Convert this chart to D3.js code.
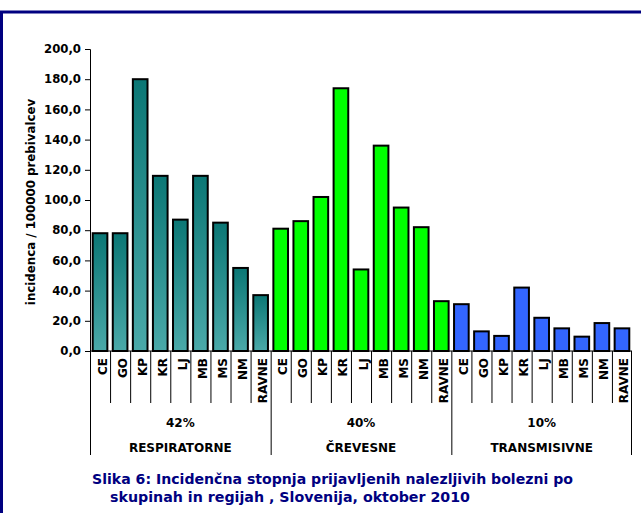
<!DOCTYPE html>
<html>
<head>
<meta charset="utf-8">
<script src="https://cdn.jsdelivr.net/npm/d3@7"></script>
<style>
  body { margin: 0; background: #fff; }
  svg { display: block; font-family: "DejaVu Sans", Verdana, sans-serif; }
</style>
</head>
<body>
<svg width="641" height="513"></svg>
<script>
var regions = ['CE', 'GO', 'KP', 'KR', 'LJ', 'MB', 'MS', 'NM', 'RAVNE']
var groups = ['RESPIRATORNE', 'ČREVESNE', 'TRANSMISIVNE']
var shares = ['42%', '40%', '10%']
var respiratorne = [78, 78, 180, 116, 87, 116, 85, 55, 37]
var crevesne = [81, 86, 102, 174, 54, 136, 95, 82, 33]
var transmisivne = [31, 13, 10, 42, 22, 15, 9.5, 18.5, 15]
var yTicks = [0, 20, 40, 60, 80, 100, 120, 140, 160, 180, 200]

var series = [respiratorne, crevesne, transmisivne]
var fills = ['url(#tealGrad)', '#00ff00', '#3366ff']
var font = '"DejaVu Sans", Verdana, sans-serif'

var rows = []
series.forEach(function(vals, g){
    vals.forEach(function(v, i){
        rows.push({ key: g + '-' + regions[i], region: regions[i], group: g, value: v })
    })
})

var svg = d3.select('svg')

var defs = svg.append('defs')
var grad = defs.append('linearGradient')
    .attr('id', 'tealGrad')
    .attr('x1', 0).attr('y1', 0).attr('x2', 0).attr('y2', 1)
grad.append('stop').attr('offset', '0%').attr('stop-color', '#0b7775')
grad.append('stop').attr('offset', '100%').attr('stop-color', '#4aa9a9')

// frame
svg.append('rect')
    .attr('x', 1.5).attr('y', 12)
    .attr('width', 700).attr('height', 700)
    .attr('fill', 'none')
    .attr('stroke', '#000080')
    .attr('stroke-width', 3)

var plotLeft = 90, plotRight = 632, plotTop = 49, plotBottom = 351

var x = d3.scaleBand().domain(rows.map(function(d){ return d.key }))
    .range([plotLeft, plotRight]).paddingInner(0.27).paddingOuter(0.135)
var xStep = d3.scaleBand().domain(rows.map(function(d){ return d.key }))
    .range([plotLeft, plotRight])
var y = d3.scaleLinear().domain([0, 200]).range([plotBottom, plotTop])

// bars
svg.append('g')
    .selectAll('rect')
    .data(rows)
    .enter()
    .append('rect')
    .attr('x', function(d){ return x(d.key) })
    .attr('y', function(d){ return y(d.value) })
    .attr('width', x.bandwidth())
    .attr('height', function(d){ return y(0) - y(d.value) })
    .attr('fill', function(d){ return fills[d.group] })
    .attr('stroke', '#000')
    .attr('stroke-width', 2)

// y axis
var yAxis = d3.axisLeft(y).tickValues(yTicks).tickSize(5).tickPadding(4)
    .tickFormat(function(d){ return d3.format('.1f')(d).replace('.', ',') })
var ya = svg.append('g')
    .attr('transform', 'translate(' + plotLeft + ',0)')
    .call(yAxis)
    .attr('font-family', font)
ya.select('.domain').attr('stroke', '#000')
ya.selectAll('text')
    .style('font-size', '11.7px')
    .style('font-weight', 'bold')
    .attr('fill', '#000')

svg.append('text')
    .attr('transform', 'translate(35,' + ((plotTop + plotBottom) / 2 + 2) + ') rotate(-90)')
    .attr('text-anchor', 'middle')
    .style('font-size', '11.8px')
    .style('font-weight', 'bold')
    .text('incidenca / 100000 prebivalcev')

// x axis line
svg.append('line')
    .attr('x1', plotLeft).attr('x2', plotRight)
    .attr('y1', plotBottom).attr('y2', plotBottom)
    .attr('stroke', '#000')

// category separators
var sep = svg.append('g').attr('stroke', '#000').attr('stroke-width', 1)
rows.forEach(function(d, i){
    var xs = xStep(d.key)
    var isGroupEdge = (i % regions.length === 0)
    sep.append('line')
        .attr('x1', xs + 0.5).attr('x2', xs + 0.5)
        .attr('y1', plotBottom).attr('y2', isGroupEdge ? 455 : 403)
})
sep.append('line')
    .attr('x1', plotRight - 0.5).attr('x2', plotRight - 0.5)
    .attr('y1', plotBottom).attr('y2', 455)

// category labels
svg.append('g')
    .selectAll('text')
    .data(rows)
    .enter()
    .append('text')
    .attr('transform', function(d){
        return 'translate(' + (xStep(d.key) + xStep.bandwidth() / 2 + 6.5) + ',358) rotate(-90)'
    })
    .attr('text-anchor', 'end')
    .style('font-size', '12px')
    .style('font-weight', 'bold')
    .text(function(d){ return d.region })

// group labels
groups.forEach(function(g, gi){
    var x0 = xStep(gi + '-' + regions[0])
    var x1 = xStep(gi + '-' + regions[regions.length - 1]) + xStep.bandwidth()
    var cx = (x0 + x1) / 2
    svg.append('text')
        .attr('x', cx).attr('y', 427)
        .attr('text-anchor', 'middle')
        .style('font-size', '12px')
        .style('font-weight', 'bold')
        .text(shares[gi])
    svg.append('text')
        .attr('x', cx).attr('y', 452)
        .attr('text-anchor', 'middle')
        .style('font-size', '12px')
        .style('font-weight', 'bold')
        .text(g)
})

// caption
svg.append('text')
    .attr('x', 92).attr('y', 484)
    .attr('textLength', 481).attr('lengthAdjust', 'spacingAndGlyphs')
    .attr('fill', '#000080')
    .style('font-size', '14.5px')
    .style('font-weight', 'bold')
    .text('Slika 6: Incidenčna stopnja prijavljenih nalezljivih bolezni po')
svg.append('text')
    .attr('x', 110).attr('y', 502)
    .attr('textLength', 360).attr('lengthAdjust', 'spacingAndGlyphs')
    .attr('fill', '#000080')
    .style('font-size', '14.5px')
    .style('font-weight', 'bold')
    .text('skupinah in regijah , Slovenija, oktober 2010')
</script>
</body>
</html>
